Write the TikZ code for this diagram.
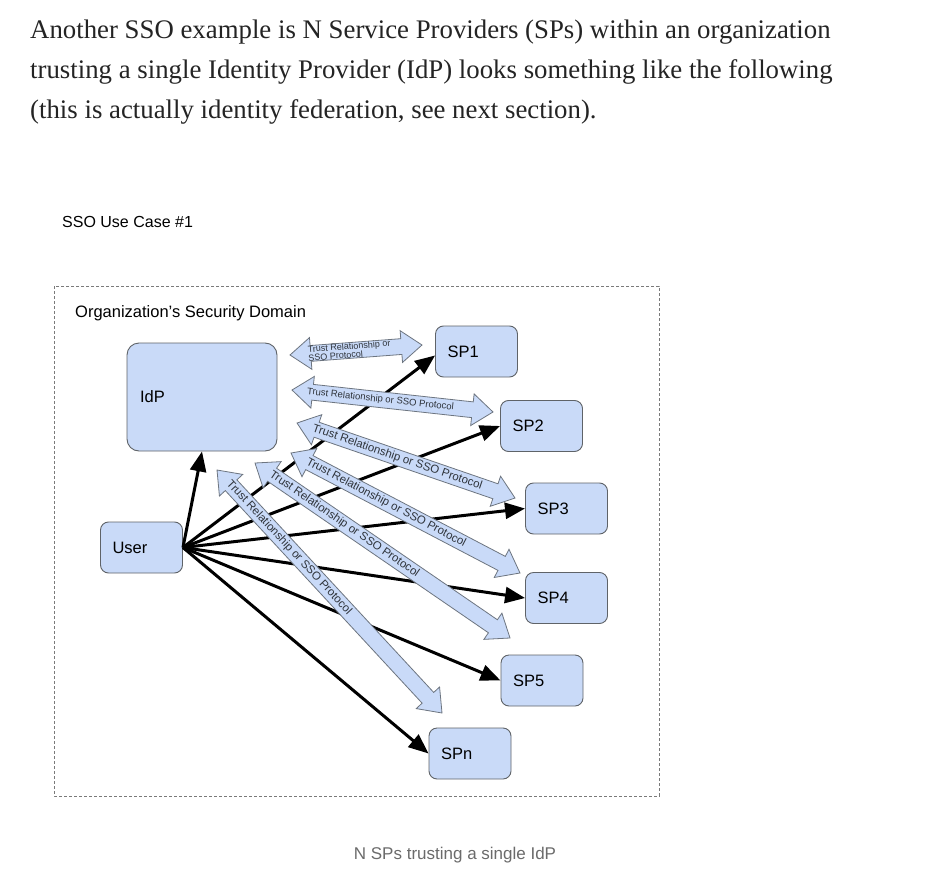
\documentclass[tikz,border=0pt]{standalone}
\usepackage{fontspec}
\setmainfont{Liberation Serif}
\setsansfont{Liberation Sans}
\usetikzlibrary{arrows.meta,shapes.arrows,calc}

\definecolor{boxfill}{HTML}{C9DAF8}
\definecolor{boxline}{HTML}{5F6368}
\definecolor{arrowline}{HTML}{6D7580}
\definecolor{labeltext}{HTML}{2F343B}
\definecolor{bodytext}{HTML}{242424}
\definecolor{captiontext}{HTML}{6B6B6B}
\definecolor{framegray}{HTML}{7A7A7A}

\tikzset{
  spbox/.style={draw=boxline, fill=boxfill, rounded corners=8pt, line width=0.9pt,
    minimum height=51pt, text width=58pt, inner xsep=12pt, align=left,
    font=\sffamily\fontsize{16.5}{18}\selectfont},
  link/.style={line width=3pt, -{Triangle[length=20pt,width=16pt]}},
  trust/.style={double arrow, draw=arrowline, fill=boxfill, line width=0.8pt,
    inner ysep=7.5pt, inner xsep=0pt, double arrow head extend=8pt,
    double arrow tip angle=75, sloped},
  trustlabel/.style={sloped, inner sep=0pt, text=labeltext,
    font=\sffamily\fontsize{11.5}{12}\selectfont},
}

\begin{document}
\begin{tikzpicture}[x=1pt,y=-1pt]
  \fill[white] (0,0) rectangle (933,885);
  \useasboundingbox (0,0) rectangle (933,885);

  % Text above the picture
  \node[anchor=base west, inner sep=0pt, text=bodytext, font=\fontsize{26.8}{30}\selectfont] (line1) at (30,39)
    {Another SSO example is N Service Providers (SPs) within an organization};
  \node[anchor=base west, inner sep=0pt, text=bodytext, font=\fontsize{26.8}{30}\selectfont] (line2) at (30,79)
    {trusting a single Identity Provider (IdP) looks something like the following};
  \node[anchor=base west, inner sep=0pt, text=bodytext, font=\fontsize{26.8}{30}\selectfont] (line3) at (30,119)
    {(this is actually identity federation, see next section).};

  % Titles
  \node[anchor=base west, inner sep=0pt, font=\sffamily\fontsize{16}{18}\selectfont] (usecase) at (62,228) {SSO Use Case \#1};
  \draw[framegray, line width=0.8pt, dash pattern=on 3pt off 2pt] (54,286) rectangle (659,796);
  \node[anchor=base west, inner sep=0pt, font=\sffamily\fontsize{16.5}{18}\selectfont] (domain) at (75,317) {Organization's Security Domain};

  % Define the boxes
  \node[spbox, minimum height=108pt, text width=124pt, inner xsep=13pt, rounded corners=12pt] (IdP) at (202,397) {IdP};
  \node[spbox] (User) at (141.5,547.5) {User};
  \node[spbox] (SP1) at (476.5,351.5) {SP1};
  \node[spbox] (SP2) at (541.5,426) {SP2};
  \node[spbox] (SP3) at (566.5,508.5) {SP3};
  \node[spbox] (SP4) at (566.5,598) {SP4};
  \node[spbox] (SP5) at (542,680.5) {SP5};
  \node[spbox] (SPn) at (470,753.5) {SPn};

  % Draw the user links
  \draw[link] (User.east) -- (IdP.south);
  \draw[link] (User.east) -- ([yshift=-4pt]SP1.west);
  \draw[link] (User.east) -- (SP2.west);
  \draw[link] (User.east) -- (SP3.west);
  \draw[link] (User.east) -- (SP4.west);
  \draw[link] (User.east) -- (SP5.west);
  \draw[link] (User.east) -- (SPn.west);

  % Define the ends of the trust arrows
  \coordinate (T1a) at (290,355); \coordinate (T1b) at (422,345);
  \coordinate (T2a) at (292,390); \coordinate (T2b) at (493,412);
  \coordinate (T3a) at (297,423); \coordinate (T3b) at (515,498);
  \coordinate (T4a) at (291,453); \coordinate (T4b) at (520,573);
  \coordinate (T5a) at (255,463); \coordinate (T5b) at (510,638);
  \coordinate (T6a) at (217,470); \coordinate (T6b) at (442,713);

  % Draw the trust arrows
  \path let \p1=($(T1b)-(T1a)$), \n1={veclen(\x1,\y1)} in (T1a) -- (T1b)
    node[midway, trust, minimum height=\n1] (trust1) {}
    node[pos=.45, trustlabel, align=left, font=\sffamily\fontsize{9}{8.5}\selectfont] {Trust Relationship or\\SSO Protocol};
  \path let \p1=($(T2b)-(T2a)$), \n1={veclen(\x1,\y1)} in (T2a) -- (T2b)
    node[midway, trust, minimum height=\n1] (trust2) {}
    node[pos=.44, trustlabel, font=\sffamily\fontsize{9.5}{10}\selectfont] {Trust Relationship or SSO Protocol};
  \path let \p1=($(T3b)-(T3a)$), \n1={veclen(\x1,\y1)} in (T3a) -- (T3b)
    node[midway, trust, minimum height=\n1] (trust3) {}
    node[pos=.46, trustlabel] {Trust Relationship or SSO Protocol};
  \path let \p1=($(T4b)-(T4a)$), \n1={veclen(\x1,\y1)} in (T4a) -- (T4b)
    node[midway, trust, minimum height=\n1] (trust4) {}
    node[pos=.415, trustlabel] {Trust Relationship or SSO Protocol};
  \path let \p1=($(T5b)-(T5a)$), \n1={veclen(\x1,\y1)} in (T5a) -- (T5b)
    node[midway, trust, minimum height=\n1] (trust5) {}
    node[pos=.35, trustlabel] {Trust Relationship or SSO Protocol};
  \path let \p1=($(T6b)-(T6a)$), \n1={veclen(\x1,\y1)} in (T6a) -- (T6b)
    node[midway, trust, minimum height=\n1] (trust6) {}
    node[pos=.32, trustlabel] {Trust Relationship or SSO Protocol};

  % Caption
  \node[anchor=base, inner sep=0pt, text=captiontext, font=\sffamily\fontsize{17}{20}\selectfont] (caption) at (455,859)
    {N SPs trusting a single IdP};
\end{tikzpicture}
\end{document}
